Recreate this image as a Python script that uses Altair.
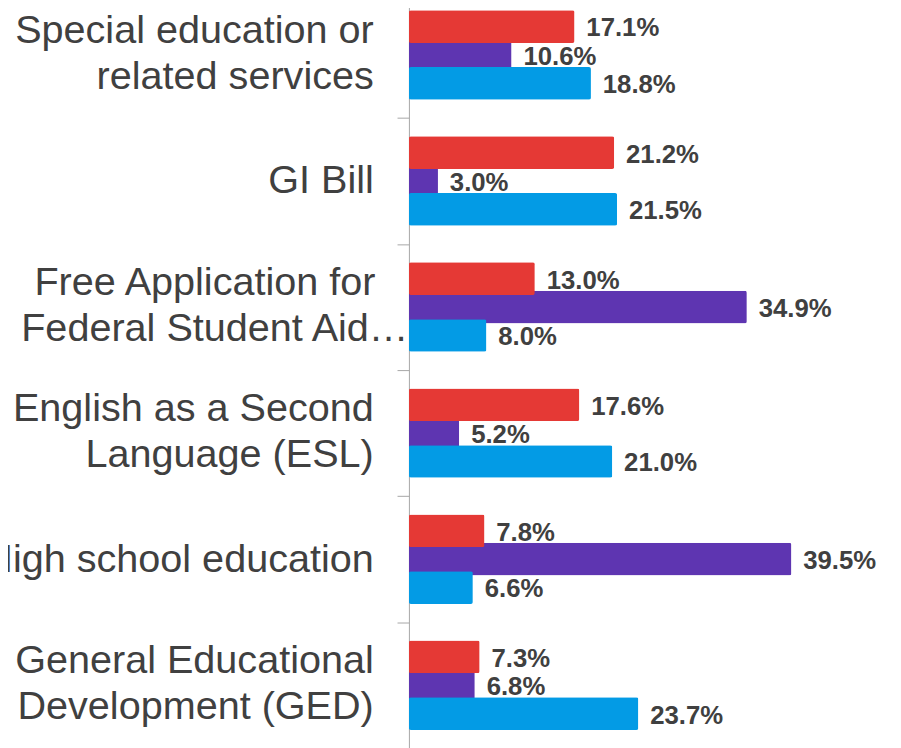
import altair as alt
import pandas as pd

categories = [
    "Special education or|related services",
    "GI Bill",
    "Free Application for\u00a0\u00a0\u00a0\u200c|Federal Student Aid…",
    "English as a Second|Language (ESL)",
    "High school education",
    "General Educational|Development (GED)",
]
series_names = ["Series 1", "Series 2", "Series 3"]
series_colors = ["#E53935", "#5E35B1", "#039BE5"]
values_1 = [17.1, 21.2, 13.0, 17.6, 7.8, 7.3]
values_2 = [10.6, 3.0, 34.9, 5.2, 39.5, 6.8]
values_3 = [18.8, 21.5, 8.0, 21.0, 6.6, 23.7]

rows = []
# draw order: middle series first so neighbours overlap it
for name, vals in [(series_names[1], values_2), (series_names[0], values_1), (series_names[2], values_3)]:
    for c, v in zip(categories, vals):
        rows.append({"category": c, "series": name, "value": v, "label": f"{v:.1f}%"})
df = pd.DataFrame(rows)

y_enc = alt.Y(
    "category:N",
    sort=categories,
    scale=alt.Scale(paddingInner=0, paddingOuter=0),
    axis=alt.Axis(
        title=None,
        labelExpr="split(datum.label, '|')",
        labelFont="Liberation Sans",
        labelFontSize=40,
        labelLineHeight=47,
        labelColor="#404040",
        labelPadding={
            "condition": {"test": "indexof(datum.label, '…') >= 0", "value": -11},
            "value": 24,
        },
        labelLimit=0,
        labelOffset={
            "condition": {"test": "indexof(datum.label, '|') >= 0", "value": -25},
            "value": 0,
        },
        tickBand="extent",
        tickSize=12,
        tickColor="#a6a6a6",
        domainColor="#a6a6a6",
        tickWidth=1,
        domainWidth=1,
        grid=False,
    ),
)
yoff_enc = alt.YOffset(
    "series:N",
    sort=series_names,
    scale=alt.Scale(domain=series_names, paddingOuter=0.72, paddingInner=0),
)
x_enc = alt.X("value:Q", scale=alt.Scale(domain=[0, 50]), axis=None)

bars = alt.Chart(df).mark_bar(height=33, cornerRadius=2).encode(
    y=y_enc,
    yOffset=yoff_enc,
    x=x_enc,
    color=alt.Color(
        "series:N",
        scale=alt.Scale(domain=series_names, range=series_colors),
        legend=None,
    ),
)

labels = alt.Chart(df).mark_text(
    align="left",
    baseline="middle",
    dx=12,
    dy=2,
    font="Liberation Sans",
    fontSize=26,
    fontWeight="bold",
    color="#404040",
).encode(
    y=y_enc,
    yOffset=yoff_enc,
    x=x_enc,
    text="label:N",
)

chart = (
    alt.layer(bars, labels)
    .properties(
        width=489,
        height=764,
        autosize=alt.AutoSizeParams(type="none"),
        padding={"left": 405, "top": -20, "right": 0, "bottom": 0},
    )
    .configure_view(stroke=None)
)

chart.save("out.html", embed_options={"renderer": "svg", "actions": False})
